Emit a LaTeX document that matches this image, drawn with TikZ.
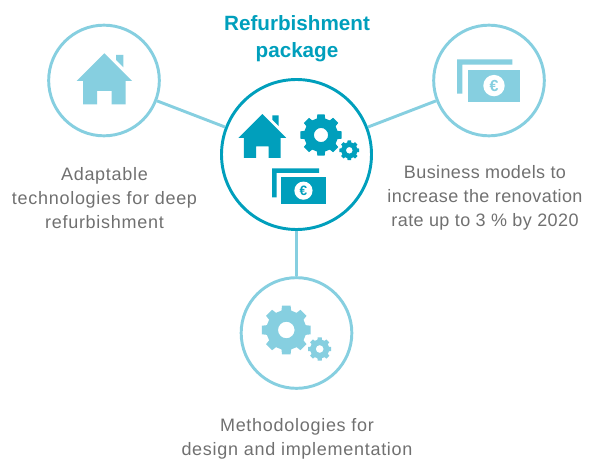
\documentclass[tikz,border=0pt]{standalone}
\usepackage{fontspec}
\setmainfont{Liberation Sans}
\newfontfamily\captionfont[LetterSpace=4]{Liberation Sans}
\newfontfamily\tightfont[LetterSpace=2.2]{Liberation Sans}
\usepackage{xcolor}
\usepackage{tikz}
\usetikzlibrary{positioning}

\definecolor{tealdark}{HTML}{009FBC}
\definecolor{teallight}{HTML}{86CFE0}
\definecolor{textgray}{HTML}{707070}

\tikzset{
  hub/.style={circle,draw=tealdark,line width=2.2pt,minimum size=112.5pt,inner sep=0pt,fill=white},
  topic/.style={circle,draw=teallight,line width=2.2pt,minimum size=83pt,inner sep=0pt,fill=white},
  spoke/.style={draw=teallight,line width=2.2pt},
  caption/.style={align=center,text=textgray,font=\captionfont\fontsize{13.5}{18}\selectfont,inner sep=0pt},
  heading/.style={align=center,text=tealdark,font=\fontsize{15.5}{20}\selectfont\bfseries,inner sep=0pt}
}

% #1 colour, #2 apex position, #3 scale
\newcommand{\houseicon}[3]{%
  \begin{scope}[shift={#2},scale=#3]
    \fill[#1,even odd rule] (0,0) -- (27.7,27.7) -- (21.3,27.7) -- (21.3,51) -- (7.3,51) -- (7.3,37.7) --
    (-7.3,37.7) -- (-7.3,51) -- (-21.3,51) -- (-21.3,27.7) -- (-27.7,27.7) -- cycle;
    \fill[#1] (11.7,1.7) -- (19,1.7) -- (19,14) -- (11.7,6.7) -- cycle;
  \end{scope}
}

% #1 colour, #2 centre, #3 outer radius
\newcommand{\gearicon}[3]{%
  \begin{scope}[shift={#2},scale=#3/24.7]
    \fill[#1,even odd rule] (-14:20)
    \foreach \a in {0,45,...,315} {%
      -- (\a-14:20) -- (\a-10:24.7) -- (\a+10:24.7) -- (\a+14:20)
    } -- cycle (0,0) circle[radius=8.3];
  \end{scope}
}

% #1 colour, #2 top left corner, #3 scale, #4 name of the coin
\newcommand{\moneyicon}[4]{%
  \begin{scope}[shift={#2},scale=#3]
    \fill[#1] (0,0) -- (55.3,0) -- (55.3,5.3) -- (5.3,5.3) -- (5.3,34.3) -- (0,34.3) -- cycle;
    \fill[#1] (10.7,10.7) rectangle (63.3,42.3);
    \fill[white] (37,26.3) circle[radius=10.7];
    \pgfmathsetmacro{\eurosize}{#3*12}
    \node[text=#1,inner sep=0pt,font=\fontsize{\eurosize}{14}\selectfont\bfseries] (#4) at (37,26.3) {€};
  \end{scope}
}

\begin{document}
\begin{tikzpicture}[x=.75pt,y=-.75pt]
  \useasboundingbox (0,0) rectangle (589,460);

  \node[hub] (package) at (296.5,154.5) {};
  \node[topic] (tech) at (104,80.5) {};
  \node[topic] (business) at (489,80.5) {};
  \node[topic] (method) at (296.5,333) {};

  \draw[spoke] (tech) -- (package);
  \draw[spoke] (business) -- (package);
  \draw[spoke] (method) -- (package);

  \houseicon{teallight}{(104.3,53.3)}{1}
  \moneyicon{teallight}{(457,59.3)}{1}{coinb}
  \gearicon{teallight}{(286.3,330)}{24.7}
  \gearicon{teallight}{(319.7,349)}{11.7}

  \houseicon{tealdark}{(262.3,114)}{.86}
  \gearicon{tealdark}{(321,135)}{21}
  \gearicon{tealdark}{(349.3,150.3)}{10}
  \moneyicon{tealdark}{(272,168.3)}{.85}{coinp}

  \node[heading] (title) at (297,38.5) {Refurbishment\\package};
  \node[caption] (techtext) at (104.5,198) {Adaptable\\technologies for deep\\refurbishment};
  \node[caption,font=\tightfont\fontsize{13.5}{18}\selectfont] (businesstext) at (485,198) {Business models to\\increase the renovation\\rate up to 3 \% by 2020};
  \node[caption] (methodtext) at (297,439) {Methodologies for\\design and implementation};
\end{tikzpicture}
\end{document}
